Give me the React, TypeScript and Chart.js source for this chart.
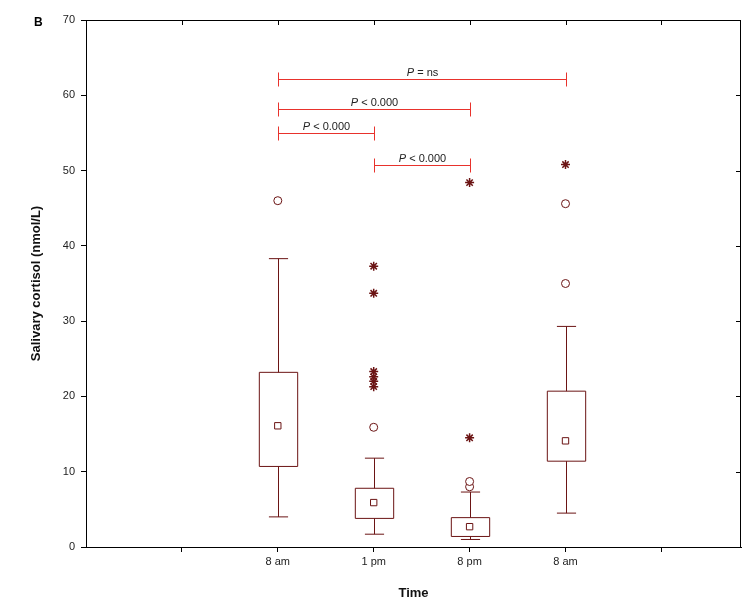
import React, { useEffect, useRef } from "react";
import Chart from "chart.js/auto";

const categories = ["8 am", "1 pm", "8 pm", "8 am"];
const catPos = [2, 3, 4, 5];
const whiskerLow = [4.0, 1.7, 1.0, 4.5];
const q1 = [10.7, 3.8, 1.4, 11.4];
const centre = [16.1, 5.9, 2.7, 14.1];
const q3 = [23.2, 7.8, 3.9, 20.7];
const whiskerHigh = [38.3, 11.8, 7.3, 29.3];
const circleOutliers = [[46.0], [15.9], [8.0, 8.7], [35.0, 45.6]];
const starOutliers = [[], [21.3, 22.0, 22.6, 23.3, 33.7, 37.3], [14.5, 48.4], [50.8]];
const sigBars = [
  { from: 2, to: 5, y: 62.2, op: " = ns" },
  { from: 2, to: 4, y: 58.2, op: " < 0.000" },
  { from: 2, to: 3, y: 55.0, op: " < 0.000" },
  { from: 3, to: 4, y: 50.8, op: " < 0.000" },
];
const DARK = "#6b1414";
const RED = "#e8322c";

export default function App() {
  const ref = useRef<HTMLCanvasElement>(null);
  useEffect(() => {
    document.body.style.margin = "0";
    const circles: any[] = [];
    const stars: any[] = [];
    catPos.forEach((x, i) => {
      circleOutliers[i].forEach((y) => circles.push({ x, y }));
      starOutliers[i].forEach((y) => stars.push({ x, y }));
    });
    const plugin = {
      id: "boxes",
      afterDatasetsDraw(chart: any) {
        const { ctx, scales, chartArea } = chart;
        const xs = scales.x, ys = scales.y;
        ctx.save();
        ctx.strokeStyle = "#000";
        ctx.lineWidth = 1;
        ctx.strokeRect(chartArea.left + 0.5, chartArea.top + 0.5, chartArea.right - chartArea.left - 1, chartArea.bottom - chartArea.top);
        ctx.beginPath();
        for (let t = 1; t <= 6; t++) {
          const px = Math.round(xs.getPixelForValue(t)) + 0.5;
          ctx.moveTo(px, chartArea.top); ctx.lineTo(px, chartArea.top + 5);
        }
        for (let v = 10; v < 70; v += 10) {
          const py = Math.round(ys.getPixelForValue(v)) + 0.5;
          ctx.moveTo(chartArea.right, py); ctx.lineTo(chartArea.right - 5, py);
        }
        ctx.stroke();
        ctx.strokeStyle = DARK;
        catPos.forEach((x, i) => {
          const cx = Math.round(xs.getPixelForValue(x)) + 0.5;
          const hw = xs.getPixelForValue(x + 0.2) - xs.getPixelForValue(x);
          const cw = xs.getPixelForValue(x + 0.1) - xs.getPixelForValue(x);
          const yq1 = ys.getPixelForValue(q1[i]), yq3 = ys.getPixelForValue(q3[i]);
          const yl = ys.getPixelForValue(whiskerLow[i]), yh = ys.getPixelForValue(whiskerHigh[i]);
          ctx.beginPath();
          ctx.rect(cx - hw, yq3, 2 * hw, yq1 - yq3);
          ctx.moveTo(cx, yq3); ctx.lineTo(cx, yh);
          ctx.moveTo(cx - cw, yh); ctx.lineTo(cx + cw, yh);
          ctx.moveTo(cx, yq1); ctx.lineTo(cx, yl);
          ctx.moveTo(cx - cw, yl); ctx.lineTo(cx + cw, yl);
          ctx.stroke();
        });
        ctx.strokeStyle = RED;
        ctx.fillStyle = "#222";
        sigBars.forEach((b) => {
          const x1 = Math.round(xs.getPixelForValue(b.from)) + 0.5;
          const x2 = Math.round(xs.getPixelForValue(b.to)) + 0.5;
          const py = Math.round(ys.getPixelForValue(b.y)) + 0.5;
          ctx.beginPath();
          ctx.moveTo(x1, py); ctx.lineTo(x2, py);
          ctx.moveTo(x1, py - 7); ctx.lineTo(x1, py + 7);
          ctx.moveTo(x2, py - 7); ctx.lineTo(x2, py + 7);
          ctx.stroke();
          ctx.textBaseline = "alphabetic";
          ctx.font = "italic 11px 'Liberation Sans', Arial";
          const wP = ctx.measureText("P").width;
          ctx.font = "11px 'Liberation Sans', Arial";
          const wR = ctx.measureText(b.op).width;
          const sx = (x1 + x2) / 2 - (wP + wR) / 2;
          ctx.font = "italic 11px 'Liberation Sans', Arial";
          ctx.fillText("P", sx, py - 4);
          ctx.font = "11px 'Liberation Sans', Arial";
          ctx.fillText(b.op, sx + wP, py - 4);
        });
        ctx.fillStyle = "#000";
        ctx.font = "bold 12px 'Liberation Sans', Arial";
        ctx.fillText("B", 34, 26);
        ctx.restore();
      },
    };
    const chart = new Chart(ref.current!, {
      type: "scatter",
      data: {
        datasets: [
          { data: catPos.map((x, i) => ({ x, y: centre[i] })), pointStyle: "rect", pointRadius: 4.5, borderColor: DARK, backgroundColor: "#fff", borderWidth: 1 },
          { data: circles, pointStyle: "circle", pointRadius: 4, borderColor: DARK, backgroundColor: "#fff", borderWidth: 1 },
          { data: stars, pointStyle: "star", pointRadius: 4.5, borderColor: DARK, backgroundColor: DARK, borderWidth: 1.5 },
        ],
      },
      options: {
        animation: false,
        responsive: false,
        layout: { padding: { top: 20, right: 2, left: 0, bottom: 0 } },
        plugins: { legend: { display: false }, tooltip: { enabled: false } },
        scales: {
          x: {
            type: "linear", min: 0, max: 6.83,
            afterBuildTicks: (s: any) => { s.ticks = [1, 2, 3, 4, 5, 6].map((v) => ({ value: v })); },
            afterFit: (s: any) => { s.height = 52; },
            ticks: { color: "#222", font: { size: 11, family: "'Liberation Sans', Arial" }, padding: 3,
              callback: (v: any) => { const i = catPos.indexOf(Number(v)); return i >= 0 ? categories[i] : ""; } },
            grid: { drawOnChartArea: false, tickLength: 5, color: "#000" },
            border: { color: "#000" },
            title: { display: true, text: "Time", font: { size: 13, weight: "bold", family: "'Liberation Sans', Arial" }, color: "#111", padding: { top: 14, bottom: -2 } },
          },
          y: {
            min: 0, max: 70,
            afterFit: (s: any) => { s.width = 86; },
            ticks: { stepSize: 10, color: "#222", font: { size: 11, family: "'Liberation Sans', Arial" }, padding: 6 },
            grid: { drawOnChartArea: false, tickLength: 5, color: "#000" },
            border: { color: "#000" },
            title: { display: true, text: "Salivary cortisol (nmol/L)", font: { size: 13, weight: "bold", family: "'Liberation Sans', Arial" }, color: "#111", padding: { top: 29, bottom: 0 } },
          },
        },
      },
      plugins: [plugin],
    } as any);
    return () => chart.destroy();
  }, []);
  return <canvas ref={ref} width={747} height={599} style={{ display: "block" }} />;
}
